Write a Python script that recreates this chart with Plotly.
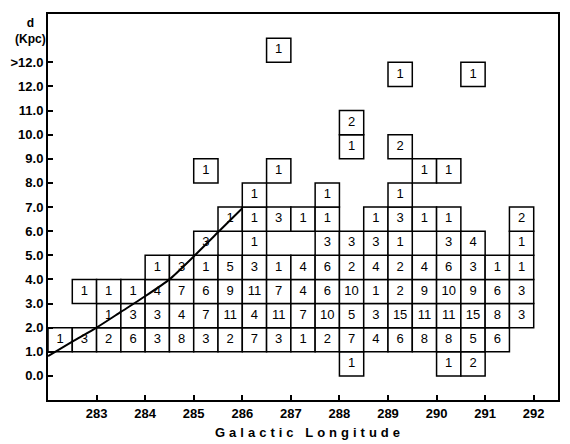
import plotly.graph_objects as go

# Longitude bins (left edges, width 0.5 deg)
lon_bins = [282.0, 282.5, 283.0, 283.5, 284.0, 284.5, 285.0, 285.5, 286.0, 286.5,
            287.0, 287.5, 288.0, 288.5, 289.0, 289.5, 290.0, 290.5, 291.0, 291.5]
bin_width = 0.5

N = None
# Star counts per distance row (row lower edge in Kpc), one entry per longitude bin
n_d00 = [N, N, N, N, N, N, N, N, N, N, N, N, 1, N, N, N, 1, 2, N, N]
n_d01 = [1, 3, 2, 6, 3, 8, 3, 2, 7, 3, 1, 2, 7, 4, 6, 8, 8, 5, 6, N]
n_d02 = [N, N, 1, 3, 3, 4, 7, 11, 4, 11, 7, 10, 5, 3, 15, 11, 11, 15, 8, 3]
n_d03 = [N, 1, 1, 1, 4, 7, 6, 9, 11, 7, 4, 6, 10, 1, 2, 9, 10, 9, 6, 3]
n_d04 = [N, N, N, N, 1, 3, 1, 5, 3, 1, 4, 6, 2, 4, 2, 4, 6, 3, 1, 1]
n_d05 = [N, N, N, N, N, N, 3, N, 1, N, N, 3, 3, 3, 1, N, 3, 4, N, 1]
n_d06 = [N, N, N, N, N, N, N, 1, 1, 3, 1, 1, N, 1, 3, 1, 1, N, N, 2]
n_d07 = [N, N, N, N, N, N, N, N, 1, N, N, 1, N, N, 1, N, N, N, N, N]
n_d08 = [N, N, N, N, N, N, 1, N, N, 1, N, N, N, N, N, 1, 1, N, N, N]
n_d09 = [N, N, N, N, N, N, N, N, N, N, N, N, 1, N, 2, N, N, N, N, N]
n_d10 = [N, N, N, N, N, N, N, N, N, N, N, N, 2, N, N, N, N, N, N, N]
n_d11 = [N, N, N, N, N, N, N, N, N, N, N, N, N, N, N, N, N, N, N, N]
n_d12 = [N, N, N, N, N, N, N, N, N, N, N, N, N, N, 1, N, N, 1, N, N]
n_d13 = [N, N, N, N, N, N, N, N, N, 1, N, N, N, N, N, N, N, N, N, N]

d_rows = [0, 1, 2, 3, 4, 5, 6, 7, 8, 9, 10, 11, 12, 13]
counts = [n_d00, n_d01, n_d02, n_d03, n_d04, n_d05, n_d06,
          n_d07, n_d08, n_d09, n_d10, n_d11, n_d12, n_d13]

d_tickvals = [0, 1, 2, 3, 4, 5, 6, 7, 8, 9, 10, 11, 12, 13]
d_ticktext = ["0.0", "1.0", "2.0", "3.0", "4.0", "5.0", "6.0", "7.0",
              "8.0", "9.0", "10.0", "11.0", "12.0", ">12.0"]
lon_ticks = [283, 284, 285, 286, 287, 288, 289, 290, 291, 292]

# Curve drawn across the diagram
curve_lon = [282.0, 282.5, 283.0, 283.5, 284.0, 284.5, 285.0, 285.5, 286.0]
curve_d = [0.82, 1.42, 2.0, 2.65, 3.3, 4.0, 4.95, 5.95, 6.95]

xs, bases, texts = [], [], []
for d, row in zip(d_rows, counts):
    for lon, v in zip(lon_bins, row):
        if v is not None:
            xs.append(lon + bin_width / 2)
            bases.append(d)
            texts.append(str(v))

fig = go.Figure()
fig.add_trace(go.Bar(
    x=xs, y=[1] * len(xs), base=bases, width=bin_width,
    marker=dict(color="white", line=dict(color="black", width=1.5)),
    hoverinfo="skip", showlegend=False,
))
fig.add_trace(go.Scatter(
    x=xs, y=[b + 0.5 for b in bases], text=texts, mode="text",
    textfont=dict(family="Liberation Sans", size=13, color="black"),
    textposition="middle center", showlegend=False, hoverinfo="skip",
))
fig.add_trace(go.Scatter(
    x=curve_lon, y=curve_d, mode="lines",
    line=dict(color="black", width=2, shape="spline", smoothing=0.6),
    showlegend=False, hoverinfo="skip",
))

axis_font = dict(family="Liberation Sans", size=13, color="black", weight="bold")
fig.update_layout(
    width=570, height=444,
    margin=dict(l=48, r=10, t=14, b=44),
    paper_bgcolor="white", plot_bgcolor="white",
    barmode="overlay",
    xaxis=dict(range=[282.0, 292.5], tickvals=lon_ticks,
               ticktext=[str(t) for t in lon_ticks],
               ticks="inside", ticklen=5, tickwidth=1.5, tickcolor="black",
               showline=True, linecolor="black", linewidth=2, mirror=True,
               showgrid=False, zeroline=False, tickfont=axis_font),
    yaxis=dict(range=[-1, 15], tickvals=d_tickvals, ticktext=d_ticktext,
               ticks="inside", ticklen=5, tickwidth=1.5, tickcolor="black",
               showline=True, linecolor="black", linewidth=2, mirror=True,
               showgrid=False, zeroline=False, tickfont=axis_font),
    annotations=[
        dict(text="d<br>(Kpc)", xref="paper", yref="paper", x=-0.035, y=0.955,
             showarrow=False, xanchor="center", yanchor="middle",
             font=dict(family="Liberation Sans", size=12, color="black", weight="bold")),
        dict(text='<span style="letter-spacing:4px">Galactic Longitude</span>',
             xref="paper", yref="paper", x=0.512, y=-0.083,
             showarrow=False, xanchor="center", yanchor="middle",
             font=dict(family="Liberation Sans", size=13, color="black", weight="bold")),
    ],
)
fig.write_html(
    "out.html",
    config={"displayModeBar": False},
    post_script="document.body.style.margin='0px';document.body.style.overflow='hidden';",
)
